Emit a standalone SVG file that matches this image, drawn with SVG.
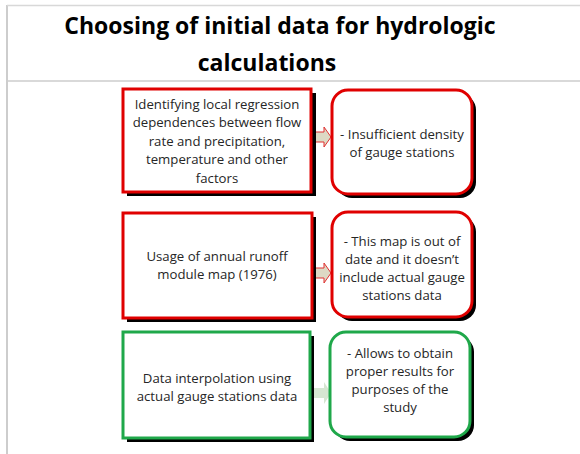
<svg xmlns="http://www.w3.org/2000/svg" width="580" height="454" viewBox="0 0 580 454">
<style>
.t{font-family:"Open Sans","Liberation Sans",sans-serif;font-size:13.2px;fill:#262626;text-anchor:middle}
.h{font-family:"Open Sans","Liberation Sans",sans-serif;font-size:23px;font-weight:bold;fill:#000;text-anchor:middle}
.sh{fill:#000}
.r{fill:#fff;stroke:#e00000;stroke-width:3}
.g{fill:#fff;stroke:#1fa84a;stroke-width:3}
.ar{fill:#ddd9c4;stroke:#e03030;stroke-width:1}
.ag{fill:#d6e6d2;stroke:none}
</style>
<rect width="580" height="454" fill="#fff"/>
<g id="frame" stroke="#bdbdbd" stroke-width="1.5">
<line x1="7" y1="5" x2="7" y2="454"/>
<line x1="7" y1="5.5" x2="580" y2="5.5" stroke="#d8d8d8"/>
<line x1="7" y1="81" x2="580" y2="81" stroke="#cccccc"/>
</g>
<g id="title">
<text class="h" x="280" y="34">Choosing of initial data for hydrologic</text>
<text class="h" x="267" y="71">calculations</text>
</g>
<g id="connectors">
<path class="ar" d="M313,132 H324 V127 L331,137 L324,147 V142 H313 Z"/>
<path class="ar" d="M313,268 H324 V263 L331,273 L324,283 V278 H313 Z"/>
<path class="ag" d="M313,388 H324 V382 L331,393 L324,404 V398 H313 Z"/>
</g>
<g id="n1">
<rect class="sh" x="127" y="93" width="189" height="103"/>
<rect class="r" x="123" y="89" width="188" height="103"/>
<text class="t" x="217" y="109">Identifying local regression</text>
<text class="t" x="217" y="127">dependences between flow</text>
<text class="t" x="217" y="146">rate and precipitation,</text>
<text class="t" x="217" y="164">temperature and other</text>
<text class="t" x="217" y="183">factors</text>
</g>
<g id="n2">
<rect class="sh" x="336" y="94" width="140" height="104" rx="16"/>
<rect class="r" x="332" y="90" width="140" height="104" rx="16"/>
<text class="t" x="402" y="139">- Insufficient density</text>
<text class="t" x="402" y="157">of gauge stations</text>
</g>
<g id="n3">
<rect class="sh" x="127" y="217" width="189" height="105"/>
<rect class="r" x="123" y="213" width="189" height="105"/>
<text class="t" x="217" y="261">Usage of annual runoff</text>
<text class="t" x="217" y="279">module map (1976)</text>
</g>
<g id="n4">
<rect class="sh" x="336" y="216" width="140" height="105" rx="16"/>
<rect class="r" x="332" y="212" width="140" height="105" rx="16"/>
<text class="t" x="402" y="246">- This map is out of</text>
<text class="t" x="402" y="264">date and it doesn’t</text>
<text class="t" x="402" y="282">include actual gauge</text>
<text class="t" x="402" y="300">stations data</text>
</g>
<g id="n5">
<rect class="sh" x="127" y="336" width="187" height="106"/>
<rect class="g" x="123" y="332" width="187" height="106"/>
<text class="t" x="217" y="383">Data interpolation using</text>
<text class="t" x="217" y="401">actual gauge stations data</text>
</g>
<g id="n6">
<rect class="sh" x="334" y="336" width="140" height="105" rx="16"/>
<rect class="g" x="330" y="332" width="140" height="105" rx="16"/>
<text class="t" x="400" y="358">- Allows to obtain</text>
<text class="t" x="400" y="376">proper results for</text>
<text class="t" x="400" y="394">purposes of the</text>
<text class="t" x="400" y="412">study</text>
</g>
</svg>
